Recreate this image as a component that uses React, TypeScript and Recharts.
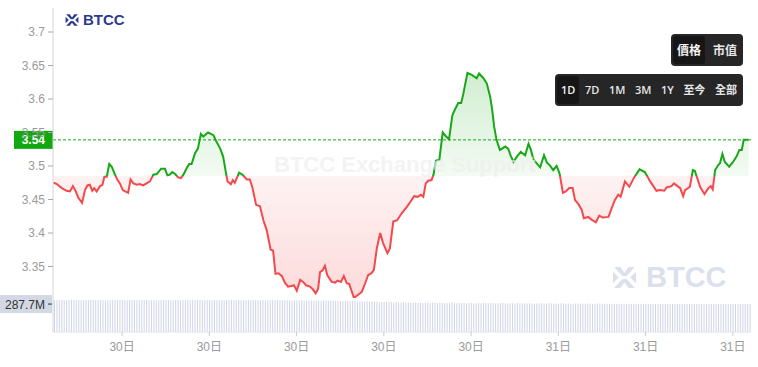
import React from 'react';
import { ComposedChart, Area, Line, XAxis, YAxis, ReferenceLine, BarChart, Bar } from 'recharts';

// minutes since start of the 24h window, and the price at that minute
const minutes = [
  1, 8, 18, 28, 35, 41, 47, 52, 60, 66, 71, 76, 81, 85, 90, 97, 102, 106, 111, 116,
  121, 128, 133, 138, 144, 149, 155, 160, 166, 173, 179, 186, 193, 200, 207, 214, 223, 231, 236, 241,
  246, 252, 258, 264, 269, 276, 281, 286, 293, 299, 305, 310, 320, 331, 336, 345, 351, 357, 360, 367,
  371, 375, 384, 391, 400, 406, 411, 419, 427, 434, 441, 449, 454, 459, 465, 472, 479, 485, 492, 497,
  503, 510, 516, 522, 530, 536, 542, 547, 551, 556, 561, 566, 575, 582, 587, 594, 600, 606, 611, 621,
  628, 637, 644, 650, 657, 662, 668, 675, 681, 690, 695, 702, 710, 719, 730, 738, 745, 752, 759, 764,
  769, 774, 781, 785, 790, 797, 804, 811, 817, 824, 829, 836, 842, 846, 855, 864, 874, 879, 888, 895,
  902, 906, 910, 915, 922, 933, 939, 944, 950, 957, 965, 974, 981, 986, 991, 998, 1005, 1013, 1019, 1025,
  1032, 1039, 1045, 1052, 1058, 1065, 1072, 1077, 1084, 1091, 1095, 1104, 1111, 1120, 1127, 1134, 1146, 1153, 1159, 1166,
  1171, 1180, 1189, 1199, 1210, 1221, 1232, 1245, 1252, 1261, 1266, 1276, 1281, 1294, 1300, 1304, 1314, 1320, 1324, 1335,
  1344, 1352, 1357, 1361, 1366, 1372, 1376, 1381, 1386, 1395, 1403, 1410, 1416, 1421, 1425, 1435,
];
const prices = [
  3.475, 3.473, 3.467, 3.463, 3.462, 3.47, 3.462, 3.453, 3.445, 3.464, 3.471, 3.472, 3.463, 3.467, 3.462, 3.47, 3.472, 3.484, 3.484, 3.503,
  3.499, 3.487, 3.479, 3.474, 3.464, 3.462, 3.46, 3.48, 3.474, 3.472, 3.473, 3.471, 3.474, 3.477, 3.487, 3.488, 3.496, 3.496, 3.486, 3.487,
  3.491, 3.488, 3.483, 3.482, 3.487, 3.497, 3.503, 3.503, 3.519, 3.526, 3.548, 3.544, 3.55, 3.546, 3.538, 3.526, 3.514, 3.489, 3.477, 3.473,
  3.479, 3.475, 3.49, 3.487, 3.48, 3.48, 3.469, 3.442, 3.44, 3.419, 3.404, 3.375, 3.374, 3.339, 3.34, 3.336, 3.325, 3.32, 3.321, 3.322,
  3.314, 3.33, 3.327, 3.322, 3.32, 3.316, 3.31, 3.317, 3.342, 3.344, 3.351, 3.337, 3.327, 3.326, 3.329, 3.327, 3.336, 3.325, 3.324, 3.303,
  3.307, 3.312, 3.325, 3.337, 3.34, 3.345, 3.377, 3.4, 3.385, 3.37, 3.377, 3.417, 3.419, 3.429, 3.439, 3.447, 3.455, 3.454, 3.457, 3.454,
  3.474, 3.478, 3.479, 3.487, 3.508, 3.509, 3.55, 3.544, 3.54, 3.576, 3.584, 3.594, 3.594, 3.606, 3.639, 3.636, 3.631, 3.638, 3.631, 3.623,
  3.603, 3.584, 3.559, 3.539, 3.524, 3.529, 3.526, 3.516, 3.506, 3.514, 3.521, 3.516, 3.533, 3.524, 3.51, 3.504, 3.498, 3.516, 3.505, 3.501,
  3.494, 3.5, 3.489, 3.46, 3.462, 3.467, 3.467, 3.449, 3.443, 3.434, 3.422, 3.424, 3.42, 3.416, 3.426, 3.423, 3.424, 3.438, 3.449, 3.457,
  3.454, 3.477, 3.469, 3.483, 3.495, 3.491, 3.477, 3.463, 3.464, 3.463, 3.468, 3.47, 3.474, 3.467, 3.455, 3.464, 3.469, 3.494, 3.493, 3.469,
  3.458, 3.467, 3.47, 3.465, 3.494, 3.501, 3.504, 3.518, 3.506, 3.499, 3.506, 3.514, 3.524, 3.524, 3.539, 3.539,
];
const basePrice = 3.485;
const priceTicks = [3.35, 3.4, 3.45, 3.5, 3.55, 3.6, 3.65, 3.7];

// 5-minute volume bars, in millions
const volumes = [
  327, 329, 326, 330, 328, 325, 329, 331, 327, 326, 330, 328, 324, 329, 327, 331, 328, 326, 330, 327, 329, 325, 328, 330,
  326, 329, 327, 331, 328, 330, 325, 327, 329, 326, 330, 328, 327, 329, 331, 326, 328, 327, 330, 325, 329, 328, 326, 330,
  328, 325, 329, 327, 330, 326, 328, 331, 327, 329, 326, 328, 330, 327, 325, 329, 328, 326, 330, 327, 329, 328, 326, 329,
  327, 330, 328, 326, 329, 327, 325, 328, 330, 327, 329, 326, 328, 327, 330, 325, 328, 329, 326, 327, 330, 328, 325, 327,
  326, 328, 324, 327, 325, 323, 326, 324, 322, 325, 323, 321, 324, 322, 320, 323, 321, 319, 322, 320, 318, 321, 319, 317,
  318, 320, 316, 319, 317, 315, 318, 316, 314, 317, 315, 313, 316, 314, 312, 310, 308, 311, 309, 307, 305, 308, 306, 304,
  305, 303, 301, 304, 302, 300, 303, 301, 299, 302, 300, 298, 301, 299, 297, 300, 298, 296, 299, 297, 300, 298, 296, 299,
  297, 299, 296, 298, 300, 297, 295, 298, 296, 299, 297, 295, 298, 296, 294, 297, 295, 298, 296, 294, 297, 295, 293, 296,
  294, 297, 295, 293, 296, 294, 292, 295, 293, 296, 294, 292, 295, 293, 291, 294, 292, 295, 293, 291, 294, 292, 290, 293,
  291, 294, 292, 290, 293, 291, 289, 292, 290, 293, 291, 289, 292, 290, 288, 291, 289, 292, 290, 288, 291, 289, 290, 292,
  289, 291, 288, 290, 292, 289, 287, 290, 288, 291, 289, 287, 290, 288, 286, 289, 287, 290, 288, 286, 289, 287, 288, 290,
  288, 290, 287, 289, 291, 288, 286, 289, 287, 290, 288, 286, 289, 287, 288, 290, 287, 289, 286, 288, 287, 289, 288, 287.7,
];
const dayTickIndex = [28, 64, 100, 136, 172, 208, 244, 280];
const dayTickLabels = ['30日', '30日', '30日', '30日', '30日', '31日', '31日', '31日'];

const priceButtons = ['價格', '市值'];
const rangeButtons = ['1D', '7D', '1M', '3M', '1Y', '至今', '全部'];

const GREEN = '#16a816';
const RED = '#f5484b';

const priceData = minutes.map((t, i) => ({ t, p: prices[i] }));
const volumeData = volumes.map((v, i) => ({ i, v }));
const lastPrice = prices[prices.length - 1];
const lastVolume = volumes[volumes.length - 1];
const maxP = Math.max(...prices);
const minP = Math.min(...prices);
const splitOff = (maxP - basePrice) / (maxP - minP);

const Logo = ({ size, color }: { size: number; color: string }) => (
  <svg width={size} height={size} viewBox="0 0 24 24">
    <polygon points="2,2 8,2 12,7.5 16,2 22,2 14,10.5 10,10.5" fill={color} />
    <polygon points="2,22 8,22 12,16.5 16,22 22,22 14,13.5 10,13.5" fill={color} />
    <polygon points="1,6.5 6.5,12 1,17.5" fill={color} />
    <polygon points="23,6.5 17.5,12 23,17.5" fill={color} />
  </svg>
);

const PriceTag = (props: any) => {
  const { viewBox } = props;
  if (!viewBox) return null;
  const y = viewBox.y;
  const x = viewBox.x;
  return (
    <g>
      <rect x={x - 39} y={y - 9} width={39} height={18} fill="#12a812" />
      <text x={x - 8} y={y + 4.5} textAnchor="end" fill="#fff" fontSize={12} fontWeight={700}>
        {lastPrice.toFixed(2)}
      </text>
    </g>
  );
};

const VolumeTick = (props: any) => {
  const { y, payload } = props;
  return (
    <g>
      <rect x={0} y={y - 9} width={52} height={18} fill="#d3d8e5" />
      <text x={45} y={y + 4.5} textAnchor="end" fill="#333" fontSize={12}>
        {payload.value}M
      </text>
      <line x1={48} x2={52} y1={y} y2={y} stroke="#333" />
    </g>
  );
};

const btnBox: React.CSSProperties = {
  position: 'absolute',
  display: 'flex',
  alignItems: 'center',
  justifyContent: 'space-between',
  background: '#262626',
  borderRadius: 4,
  padding: '0 2px',
  height: 32,
  boxSizing: 'border-box',
  whiteSpace: 'nowrap',
};

const btn = (active: boolean): React.CSSProperties => ({
  padding: '0 4px',
  height: 28,
  lineHeight: '28px',
  fontSize: 11,
  fontWeight: 600,
  color: active ? '#f2f2f2' : '#e6e6e6',
  background: active ? '#161616' : 'transparent',
  borderRadius: 3,
  whiteSpace: 'nowrap',
});

export default function App() {
  return (
    <div
      style={{
        position: 'absolute',
        left: 0,
        top: 0,
        width: 758,
        height: 367,
        background: '#fff',
        overflow: 'hidden',
        fontFamily: 'Arial, "Liberation Sans", "Noto Sans CJK TC", sans-serif',
      }}
    >
      <div style={{ position: 'absolute', left: 612, top: 265, display: 'flex', alignItems: 'center' }}>
        <Logo size={25} color="#dcdfec" />
        <span style={{ marginLeft: 9, fontSize: 29, fontWeight: 700, color: '#dcdfec', lineHeight: '25px' }}>BTCC</span>
      </div>

      <div style={{ position: 'absolute', left: 0, top: 0 }}>
        <ComposedChart width={758} height={298} data={priceData} margin={{ top: 8, right: 7, left: 0, bottom: 0 }}>
          <defs>
            <linearGradient id="lineSplit" x1="0" y1="0" x2="0" y2="1">
              <stop offset={splitOff} stopColor={GREEN} />
              <stop offset={splitOff} stopColor={RED} />
            </linearGradient>
            <linearGradient id="fillSplit" x1="0" y1="0" x2="0" y2="1">
              <stop offset={0} stopColor={GREEN} stopOpacity={0.2} />
              <stop offset={splitOff} stopColor={GREEN} stopOpacity={0.05} />
              <stop offset={splitOff} stopColor={RED} stopOpacity={0.07} />
              <stop offset={1} stopColor={RED} stopOpacity={0.2} />
            </linearGradient>
          </defs>
          <XAxis dataKey="t" type="number" domain={[0, 1440]} hide />
          <YAxis
            type="number"
            domain={[3.303, 3.7358]}
            ticks={priceTicks}
            allowDataOverflow
            width={53}
            tickSize={5}
            tickMargin={3}
            tick={{ fill: '#9a9a9a', fontSize: 12 }}
            tickLine={{ stroke: '#aaa' }}
            axisLine={{ stroke: '#d6d6d6' }}
          />
          <Area
            type="linear"
            dataKey="p"
            baseValue={basePrice}
            stroke="none"
            fill="url(#fillSplit)"
            fillOpacity={1}
            isAnimationActive={false}
          />
          <Line
            type="linear"
            dataKey="p"
            stroke="url(#lineSplit)"
            strokeWidth={2}
            dot={false}
            isAnimationActive={false}
          />
          <ReferenceLine y={lastPrice} stroke={GREEN} strokeDasharray="3 2" label={PriceTag} />
        </ComposedChart>
      </div>

      <div style={{ position: 'absolute', left: 0, top: 290 }}>
        <BarChart width={758} height={77} data={volumeData} margin={{ top: 8, right: 7, left: 0, bottom: 0 }} barSize={1}>
          <XAxis
            dataKey="i"
            ticks={dayTickIndex}
            interval={0}
            height={35}
            tickSize={4}
            tickMargin={6}
            tickFormatter={(v) => dayTickLabels[dayTickIndex.indexOf(v)]}
            tick={{ fill: '#9a9a9a', fontSize: 12 }}
            tickLine={{ stroke: '#ccc' }}
            axisLine={{ stroke: '#e3e3e3' }}
          />
          <YAxis
            domain={[0, 350]}
            ticks={[lastVolume]}
            width={53}
            tick={VolumeTick}
            tickLine={false}
            axisLine={{ stroke: '#d6d6d6' }}
          />
          <Bar dataKey="v" fill="#d0d4e6" isAnimationActive={false} />
        </BarChart>
      </div>

      <div
        style={{
          position: 'absolute',
          left: 274,
          top: 152,
          fontSize: 22,
          fontWeight: 700,
          color: 'rgba(238,238,238,0.7)',
          whiteSpace: 'nowrap',
        }}
      >
        BTCC Exchange Support
      </div>

      <div style={{ position: 'absolute', left: 65, top: 13, display: 'flex', alignItems: 'center' }}>
        <Logo size={14} color="#2c3a8f" />
        <span style={{ marginLeft: 4, fontSize: 15, fontWeight: 700, color: '#2c3a8f', lineHeight: '14px' }}>BTCC</span>
      </div>

      <div style={{ ...btnBox, left: 671, top: 34, width: 72, fontFamily: '"Noto Sans CJK TC", sans-serif' }}>
        {priceButtons.map((b, i) => (
          <div key={b} style={{ ...btn(i === 0), fontSize: 12 }}>{b}</div>
        ))}
      </div>
      <div style={{ ...btnBox, left: 555, top: 74, width: 188, fontFamily: '"Open Sans", "Noto Sans CJK TC", sans-serif' }}>
        {rangeButtons.map((b, i) => (
          <div key={b} style={btn(i === 0)}>{b}</div>
        ))}
      </div>
    </div>
  );
}
